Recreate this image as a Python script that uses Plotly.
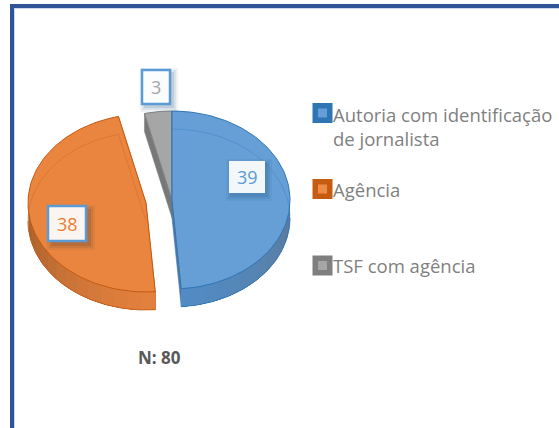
import math
import plotly.graph_objects as go

# ---- data ----
categories = ["Autoria com identificação<br>de jornalista", "Agência", "TSF com agência"]
values = [39, 38, 3]
note = "N: 80"

# ---- styles ----
top_colors = ["#659FD6", "#EA853F", "#A6A6A6"]
edge_colors = ["#2E75B6", "#C55A11", "#7F7F7F"]
side_start = [(82, 140, 198), (226, 128, 62), (120, 120, 120)]
side_end = [(92, 120, 150), (160, 92, 42), (120, 120, 120)]
faint_colors = ["rgba(46,117,182,0.35)", "rgba(197,90,17,0.35)", "rgba(90,90,90,0.3)"]
offsets = [(0, 0), (-26, 3), (0, 0)]
CX, CY, RX, RY, DEPTH = 172, 200, 118, 89, 18
FONT = "Open Sans, sans-serif"

fig = go.Figure()


def poly(xs, ys, fill, line=None, width=0.0):
    fig.add_trace(go.Scatter(
        x=xs, y=ys, mode="lines", fill="toself", fillcolor=fill,
        line=dict(color=line or fill, width=width),
        hoverinfo="skip", showlegend=False))


def stroke(xs, ys, color, width=1.0):
    fig.add_trace(go.Scatter(
        x=xs, y=ys, mode="lines", line=dict(color=color, width=width),
        hoverinfo="skip", showlegend=False))


def rim(deg, ox, oy, dz=0):
    t = math.radians(deg)
    return CX + ox + RX * math.sin(t), CY + oy + dz - RY * math.cos(t)


def arc(a, b, ox, oy, dz=0, n=80):
    pts = [rim(a + (b - a) * i / n, ox, oy, dz) for i in range(n + 1)]
    return [p[0] for p in pts], [p[1] for p in pts]


def shade(c1, c2, f):
    return "rgb(%d,%d,%d)" % tuple(round(c1[i] + (c2[i] - c1[i]) * f) for i in range(3))


total = sum(values)
spans = []
start = 0.0
for v in values:
    spans.append((start, start + 360.0 * v / total))
    start += 360.0 * v / total

for i in [2, 1, 0]:
    a, b = spans[i]
    ox, oy = offsets[i]
    ax, ay = CX + ox, CY + oy

    # cut faces
    for ang in (a, b):
        rx, ry = rim(ang, ox, oy)
        poly([ax, rx, rx, ax], [ay, ry, ry + DEPTH, ay + DEPTH],
             shade(side_end[i], side_end[i], 0), edge_colors[i], 0.5)

    # outer wall, front half only, shaded band by band with overlap to hide seams
    fa, fb = max(a, 90.0), min(b, 270.0)
    if fb > fa:
        n = 14
        order = range(n) if i == 0 else range(n - 1, -1, -1)
        for k in order:
            # each band reaches across the whole remaining wall, so later ones overpaint it
            if i == 0:
                p, q = fa + (fb - fa) * k / n, fb
            else:
                p, q = fa, fa + (fb - fa) * (k + 1) / n
            xs1, ys1 = arc(p, q, ox, oy, 0, 30)
            xs2, ys2 = arc(q, p, ox, oy, DEPTH, 30)
            # darker away from the viewer-facing bottom of the ellipse
            mid = fa + (fb - fa) * (k + 0.5) / n
            f = abs(mid - 180.0) / 90.0
            col = shade(side_start[i], side_end[i], f ** 1.3)
            poly(xs1 + xs2, ys1 + ys2, col)
        xs, ys = arc(fa, fb, ox, oy, DEPTH)
        stroke(xs, ys, edge_colors[i], 0.8)

    # top face
    xs, ys = arc(a, b, ox, oy)
    poly([ax] + xs + [ax], [ay] + ys + [ay], top_colors[i], edge_colors[i], 1.0)

    # lower rim seen through the translucent top
    xs, ys = arc(max(a, 0), b, ox, oy, DEPTH)
    lo = [k for k in range(len(xs)) if ys[k] < CY + oy + 40]
    if i != 2:
        inner_x = [xs[k] for k in lo]
        inner_y = [ys[k] for k in lo]
        if i == 1:
            inner_x = inner_x + [ax]
            inner_y = inner_y + [ay + DEPTH]
        stroke(inner_x, inner_y, faint_colors[i], 1.0)

# frame
shapes = [
    dict(type="rect", x0=14, x1=559, y0=8, y1=9, line_width=0, fillcolor="#C9D6EC"),
    dict(type="rect", x0=14, x1=15, y0=8, y1=428, line_width=0, fillcolor="#C9D6EC"),
    dict(type="rect", x0=10, x1=559, y0=4, y1=8, line_width=0, fillcolor="#2F5597"),
    dict(type="rect", x0=10, x1=14, y0=4, y1=428, line_width=0, fillcolor="#2F5597"),
]

# value labels
label_boxes = [(229, 161, 265, 193), (48, 206, 86, 241), (142, 70, 170, 104)]
label_colors = ["#5B9BD5", "#ED7D31", "#A5A5A5"]
label_border = [None, "#5B9BD5", "#5B9BD5"]
shadow_offset = [(2, 3), (4, 4), (3, 3)]
annotations = []
for i, v in enumerate(values):
    x0, y0, x1, y1 = label_boxes[i]
    sx, sy = shadow_offset[i]
    base = "31,78,121" if i != 1 else "60,50,50"
    for g, op in ((5, 0.07), (3, 0.1), (1, 0.14)):
        shapes.append(dict(type="rect", x0=x0 - g + sx, x1=x1 + g + sx, y0=y0 - g + sy, y1=y1 + g + sy,
                           line_width=0, fillcolor="rgba(%s,%s)" % (base, op)))
    shapes.append(dict(type="rect", x0=x0, x1=x1, y0=y0, y1=y1,
                       fillcolor="rgba(255,255,255,0.93)",
                       line=dict(color=label_border[i] or "rgba(255,255,255,0)", width=2.5)))
    annotations.append(dict(x=(x0 + x1) / 2, y=(y0 + y1) / 2, text=str(v), showarrow=False,
                            xref="x", yref="y", font=dict(family=FONT, size=18, color=label_colors[i])))

# legend
legend_y = [113, 189, 265.5]
legend_text_y = [126, 189, 265.5]
outer = ["#2E75B6", "#C55A11", "#7F7F7F"]
inner = ["#659FD6", "#EE8C47", "#A6A6A6"]
for i, c in enumerate(categories):
    fig.add_trace(go.Scatter(x=[322.5], y=[legend_y[i]], mode="markers", hoverinfo="skip", showlegend=False,
                             marker=dict(symbol="square", size=20, color=outer[i], line=dict(width=0))))
    fig.add_trace(go.Scatter(x=[322.5], y=[legend_y[i]], mode="markers", hoverinfo="skip", showlegend=False,
                             marker=dict(symbol="square", size=9, color=inner[i], line=dict(width=0))))
    annotations.append(dict(x=331, y=legend_text_y[i], text=c, showarrow=False, xref="x", yref="y",
                            xanchor="left", align="left",
                            font=dict(family=FONT, size=18.5, color="#7F7F7F")))

annotations.append(dict(x=159, y=357, text="<b>%s</b>" % note, showarrow=False, xref="x", yref="y",
                        font=dict(family=FONT, size=17, color="#595959")))

fig.update_layout(
    width=559, height=428, margin=dict(l=0, r=0, t=0, b=0),
    paper_bgcolor="white", plot_bgcolor="white", showlegend=False,
    xaxis=dict(range=[0, 559], visible=False, fixedrange=True),
    yaxis=dict(range=[428, 0], visible=False, fixedrange=True),
    shapes=shapes, annotations=annotations,
)

fig.write_html("out.html", config={"displayModeBar": False},
               post_script="document.body.style.margin='0';document.body.style.overflow='hidden';")
